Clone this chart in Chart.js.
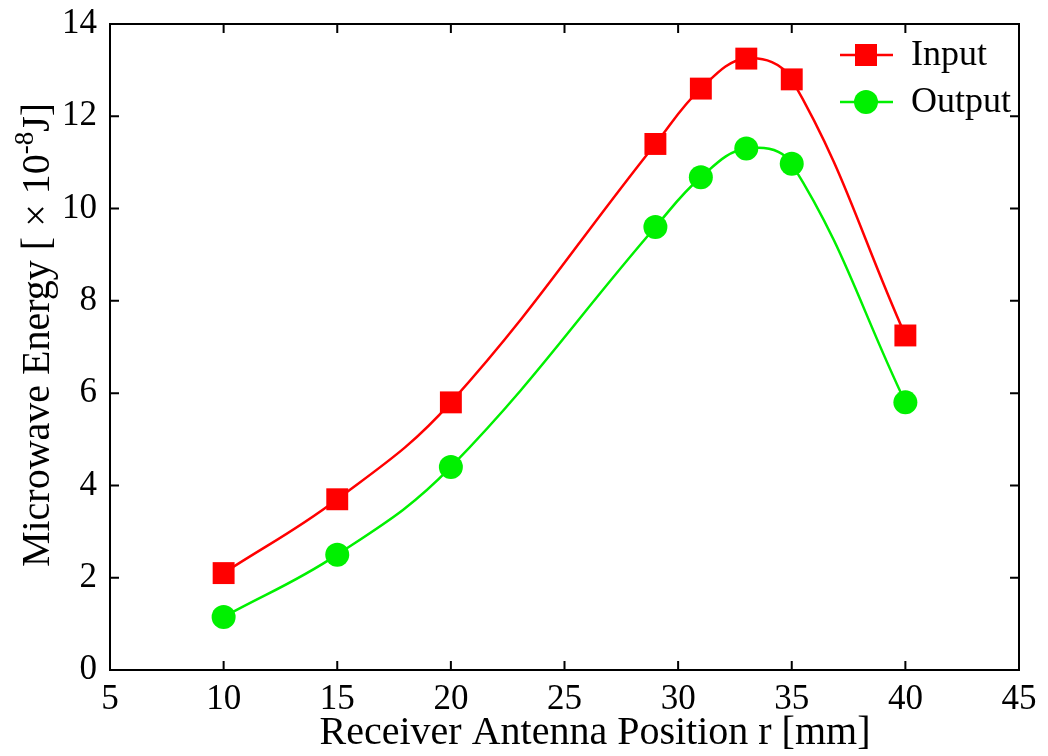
<!DOCTYPE html>
<html>
<head>
<meta charset="utf-8">
<script src="https://cdn.jsdelivr.net/npm/chart.js@4/dist/chart.umd.min.js"></script>
<style>
  html, body { margin: 0; padding: 0; background: #fff; }
  #wrap { width: 1048px; height: 756px; }
</style>
</head>
<body>
<div id="wrap"><canvas id="energyChart"></canvas></div>
<script>
/* data */
const positions = [10, 15, 20, 29, 31, 33, 35, 40];
const inputEnergy = [2.1, 3.7, 5.8, 11.4, 12.6, 13.25, 12.8, 7.25];
const outputEnergy = [1.15, 2.5, 4.4, 9.6, 10.68, 11.3, 10.97, 5.8];
const xTicks = [5, 10, 15, 20, 25, 30, 35, 40, 45];
const yTicks = [0, 2, 4, 6, 8, 10, 12, 14];
const xTitle = "Receiver Antenna Position r [mm]";

const RED = "#ff0000";
const GREEN = "#00f000";
const FONT = "'Liberation Serif', 'Times New Roman', serif";

const toXY = (xs, ys) => xs.map((x, i) => ({ x, y: ys[i] }));

/* frame with inward ticks on all four sides, axis titles, legend */
const framePlugin = {
  id: "frame",
  afterDraw(chart) {
    const { ctx, chartArea: a, scales } = chart;
    const len = 9;
    ctx.save();
    ctx.strokeStyle = "#000";
    ctx.lineWidth = 2;
    ctx.strokeRect(a.left, a.top, a.right - a.left, a.bottom - a.top);
    ctx.beginPath();
    xTicks.forEach(v => {
      const px = scales.x.getPixelForValue(v);
      ctx.moveTo(px, a.bottom); ctx.lineTo(px, a.bottom - len);
      ctx.moveTo(px, a.top); ctx.lineTo(px, a.top + len);
    });
    yTicks.forEach(v => {
      const py = scales.y.getPixelForValue(v);
      ctx.moveTo(a.left, py); ctx.lineTo(a.left + len, py);
      ctx.moveTo(a.right, py); ctx.lineTo(a.right - len, py);
    });
    ctx.stroke();

    // x axis title
    ctx.fillStyle = "#000";
    ctx.font = "40px " + FONT;
    ctx.textAlign = "center";
    ctx.textBaseline = "alphabetic";
    ctx.fillText(xTitle, 595, 744);

    // y axis title with superscript exponent
    ctx.save();
    ctx.translate(38, 335);
    ctx.rotate(-Math.PI / 2);
    ctx.textBaseline = "middle";
    const parts = [
      { t: "Microwave Energy [ \u00d7 10", size: 40, dy: 0 },
      { t: "-8", size: 27, dy: -12 },
      { t: "J]", size: 40, dy: 0 }
    ];
    let total = 0;
    parts.forEach(p => { ctx.font = p.size + "px " + FONT; p.w = ctx.measureText(p.t).width; total += p.w; });
    let x = -total / 2;
    parts.forEach(p => {
      ctx.font = p.size + "px " + FONT;
      ctx.textAlign = "left";
      ctx.fillText(p.t, x, p.dy);
      x += p.w;
    });
    ctx.restore();

    // legend inside the plot, top right
    const rows = [
      { label: "Input", color: RED, style: "rect", y: 55 },
      { label: "Output", color: GREEN, style: "circle", y: 102 }
    ];
    rows.forEach(r => {
      ctx.strokeStyle = r.color;
      ctx.lineWidth = 2.5;
      ctx.beginPath();
      ctx.moveTo(840, r.y); ctx.lineTo(893, r.y);
      ctx.stroke();
      ctx.fillStyle = r.color;
      if (r.style === "rect") ctx.fillRect(855, r.y - 11, 22, 22);
      else { ctx.beginPath(); ctx.arc(866, r.y, 12, 0, Math.PI * 2); ctx.fill(); }
      ctx.fillStyle = "#000";
      ctx.font = "36px " + FONT;
      ctx.textAlign = "left";
      ctx.textBaseline = "middle";
      ctx.fillText(r.label, 911, r.y + 1);
    });
    ctx.restore();
  }
};

new Chart(document.getElementById("energyChart"), {
  type: "line",
  data: {
    datasets: [
      {
        label: "Input",
        data: toXY(positions, inputEnergy),
        borderColor: RED,
        backgroundColor: RED,
        borderWidth: 2.5,
        pointStyle: "rect",
        pointRadius: 15.5,
        pointHoverRadius: 15.5,
        pointBorderWidth: 0,
        tension: 0.4
      },
      {
        label: "Output",
        data: toXY(positions, outputEnergy),
        borderColor: GREEN,
        backgroundColor: GREEN,
        borderWidth: 2.5,
        pointStyle: "circle",
        pointRadius: 12,
        pointHoverRadius: 12,
        pointBorderWidth: 0,
        tension: 0.4
      }
    ]
  },
  options: {
    responsive: true,
    maintainAspectRatio: false,
    animation: false,
    layout: { padding: { left: 0, top: 24, right: 29, bottom: 0 } },
    plugins: { legend: { display: false }, tooltip: { enabled: false } },
    scales: {
      x: {
        type: "linear",
        min: 5, max: 45,
        afterFit: s => { s.height = 86; s.paddingLeft = 0; s.paddingRight = 0; },
        afterBuildTicks: s => { s.ticks = xTicks.map(v => ({ value: v })); },
        grid: { display: false, drawTicks: false },
        border: { display: false },
        ticks: { color: "#000", padding: 9, font: { family: FONT, size: 35 } },
        title: { display: false }
      },
      y: {
        min: 0, max: 14,
        afterFit: s => { s.width = 110; s.paddingTop = 0; s.paddingBottom = 0; },
        afterBuildTicks: s => { s.ticks = yTicks.map(v => ({ value: v })); },
        grid: { display: false, drawTicks: false },
        border: { display: false },
        ticks: { color: "#000", padding: 13, font: { family: FONT, size: 35 } }
      }
    }
  },
  plugins: [framePlugin]
});
</script>
</body>
</html>
